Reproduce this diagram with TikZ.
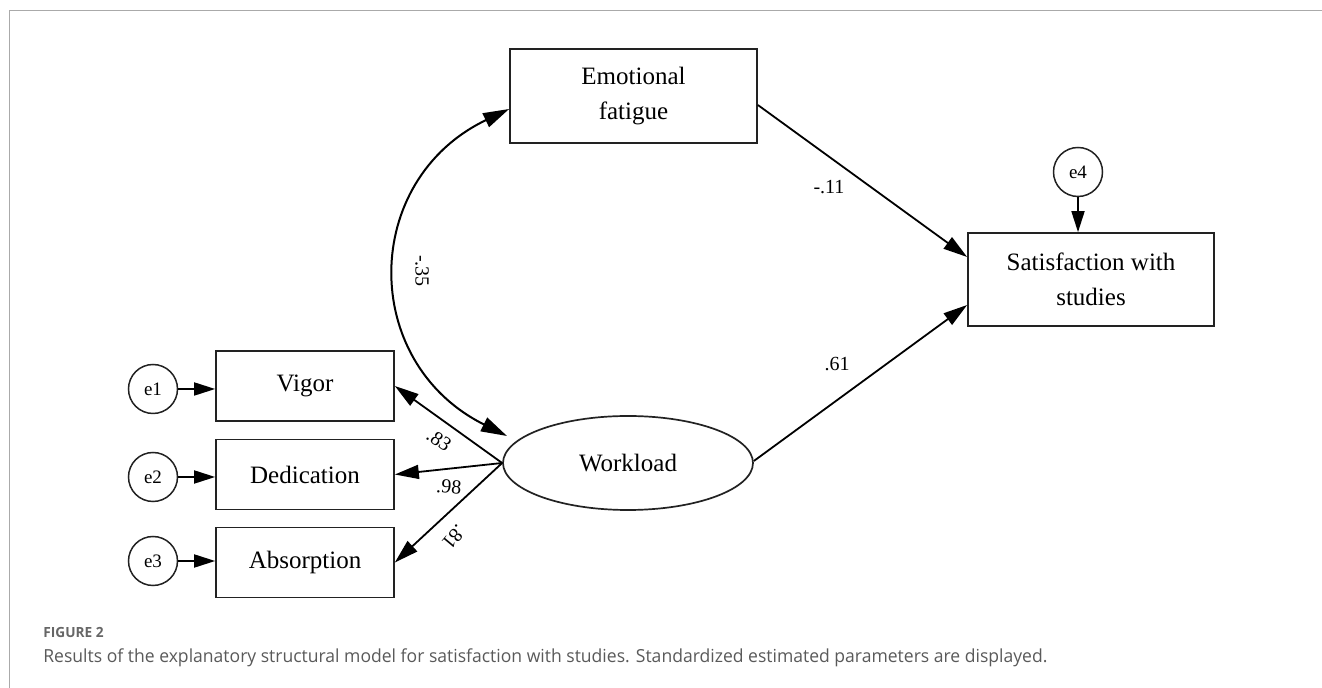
\documentclass[tikz,border=0pt]{standalone}
\usepackage{fontspec}
\setmainfont{Liberation Serif}
\newfontfamily\capfont[FakeStretch=0.975]{Open Sans}
\usetikzlibrary{arrows.meta,shapes.geometric}
\definecolor{framegray}{HTML}{AAAAAA}
\definecolor{capgray}{HTML}{5A5A5A}
\definecolor{figgray}{HTML}{666666}
\definecolor{ink}{HTML}{222222}
\begin{document}
\begin{tikzpicture}[x=0.5pt,y=-0.5pt,
  box/.style={draw=ink,line width=0.85pt,rectangle,inner sep=0pt,align=center,
    font=\fontsize{12.5}{17.5}\selectfont},
  obs/.style={box,minimum width=89pt,minimum height=35pt},
  lat/.style={draw=ink,line width=0.85pt,ellipse,inner sep=0pt,minimum width=125pt,
    minimum height=47pt,font=\fontsize{12.5}{17.5}\selectfont},
  err/.style={draw=ink,line width=0.75pt,circle,inner sep=0pt,minimum size=24.5pt,
    font=\fontsize{9.5}{10}\selectfont},
  arr/.style={draw=black,line width=0.9pt,-{Triangle[length=12pt,width=7pt]}},
  arrs/.style={draw=black,line width=0.9pt,-{Triangle[length=10.5pt,width=6.5pt]}},
  arrb/.style={draw=black,line width=1pt,{Triangle[length=13pt,width=7.5pt]}-{Triangle[length=13pt,width=7.5pt]}},
  lab/.style={inner sep=0pt,font=\fontsize{10}{11}\selectfont},
]
\useasboundingbox (0,0) rectangle (1322,688);
\fill[white] (0,0) rectangle (1322,688);
\draw[framegray,line width=0.9pt] (9.5,688) -- (9.5,10.5) -- (1322,10.5);

% nodes
\node[box,minimum width=123.5pt,minimum height=47pt] (EF) at (633.5,96) {Emotional\\fatigue};
\node[box,minimum width=123pt,minimum height=46.5pt] (SAT) at (1091,279.5) {Satisfaction with\\studies};
\node[err] (e4) at (1078,172) {e4};
\node[obs] (VIG) at (305,386) {Vigor};
\node[obs] (DED) at (305,474.5) {Dedication};
\node[obs] (ABS) at (305,562.5) {Absorption};
\node[err] (e1) at (153,389) {e1};
\node[err] (e2) at (153,477) {e2};
\node[err] (e3) at (153,561) {e3};
\node[lat] (W) at (628,463) {Workload};
\coordinate (Wc) at (507,436);

% connectors
\draw[arrs] (e1) -- (e1 -| VIG.west);
\draw[arrs] (e2) -- (e2 -| DED.west);
\draw[arrs] (e3) -- (e3 -| ABS.west);
\draw[arrs] (e4) -- (e4 |- SAT.north);
\draw[arr] (W.west) -- (VIG.east);
\draw[arr] (W.west) -- (DED.east);
\draw[arr] (W.west) -- (ABS.east);
\draw[arr] ([yshift=-4.5pt]EF.east) -- ([yshift=11.25pt]SAT.west);
\draw[arr] ([yshift=1pt]W.east) -- ([yshift=-12.75pt]SAT.west);
\draw[arrb] ([yshift=-6.5pt]EF.west) .. controls (361,180) and (359,362) .. (Wc);

% labels
\node[lab,rotate=-90] (l35) at (422,271) {-.35};
\node[lab,rotate=-35] (l83) at (439,440) {.83};
\node[lab,rotate=-5] (l98) at (449,487) {.98};
\node[lab,rotate=-130] (l81) at (454,537) {.81};
\node[lab] (l11) at (829,187) {-.11};
\node[lab] (l61) at (837,364) {.61};

% caption
\node[anchor=base west,inner sep=0pt,text=figgray,font=\capfont\bfseries\fontsize{7}{8}\selectfont] (figlab) at (43,637.3) {FIGURE 2};
\node[anchor=base west,inner sep=0pt,text=capgray,font=\capfont\fontsize{9}{10}\selectfont] (caption) at (43,662.7) {Results of the explanatory structural model for satisfaction with studies. Standardized estimated parameters are displayed.};
\end{tikzpicture}
\end{document}
